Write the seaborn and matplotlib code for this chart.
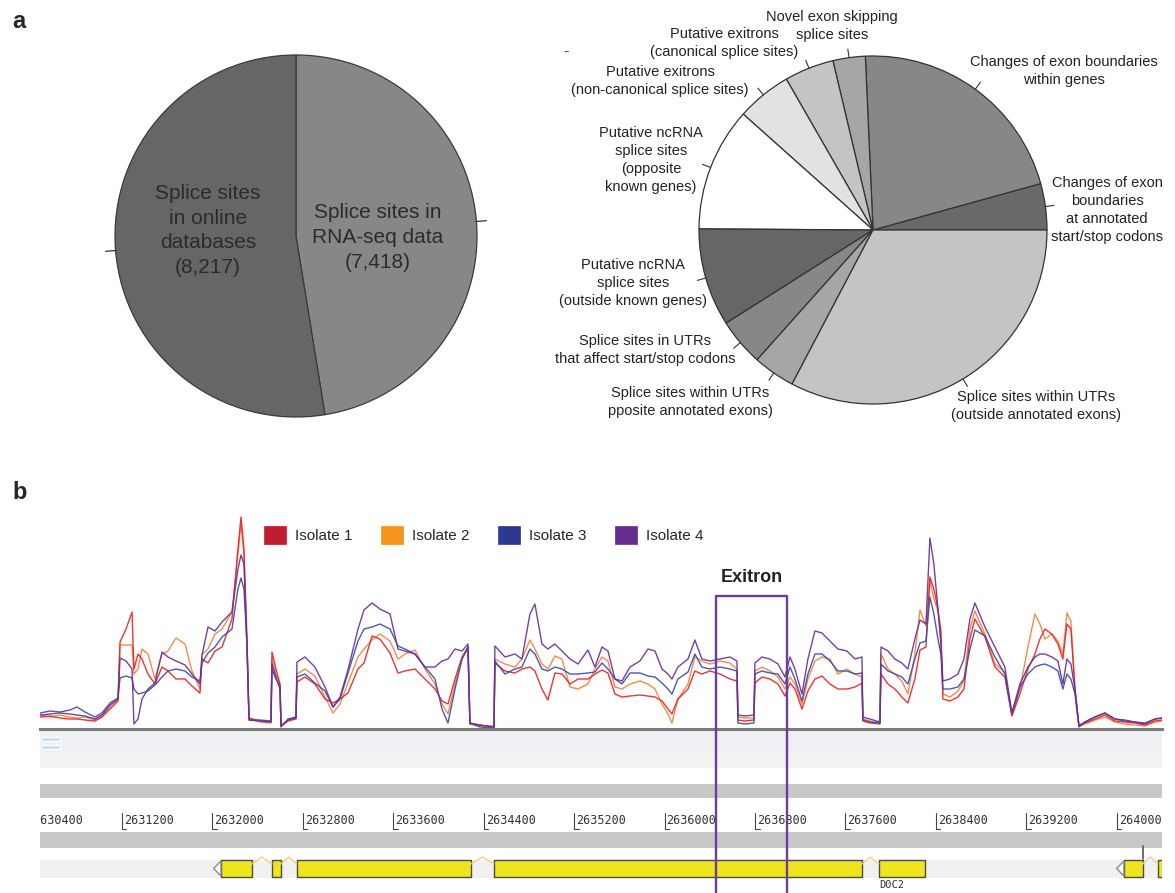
import numpy as np
import pandas as pd
import matplotlib
matplotlib.use("Agg")
import matplotlib.pyplot as plt
from matplotlib.patches import Patch, Polygon
import seaborn as sns

sns.set_theme(style="white")
plt.rcParams['font.family'] = ['Liberation Sans', 'DejaVu Sans']

# ---------------- data: panel a ----------------
left_labels = ["Splice sites in\nRNA-seq data\n(7,418)", "Splice sites\nin online\ndatabases\n(8,217)"]
left_values = [7418, 8217]
left_colors = ["#878787", "#666666"]

right_labels = [
    "Changes of exon\nboundaries\nat annotated\nstart/stop codons",
    "Changes of exon boundaries\nwithin genes",
    "Novel exon skipping\nsplice sites",
    "Putative exitrons\n(canonical splice sites)",
    "Putative exitrons\n(non-canonical splice sites)",
    "Putative ncRNA\nsplice sites\n(opposite\nknown genes)",
    "Putative ncRNA\nsplice sites\n(outside known genes)",
    "Splice sites in UTRs\nthat affect start/stop codons",
    "Splice sites within UTRs\npposite annotated exons)",
    "Splice sites within UTRs\n(outside annotated exons)",
]
right_values = [4.3, 21.4, 3.0, 4.6, 5.1, 11.5, 9.1, 4.4, 3.9, 32.7]
right_colors = ["#696969", "#878787", "#a6a6a6", "#c4c4c4", "#e2e2e2",
                "#ffffff", "#666666", "#878787", "#a6a6a6", "#c4c4c4"]
# label anchor positions (in pie radius units)
right_label_u = [1.345, 1.098, -0.236, -0.856, -1.224, -1.276, -1.379, -1.31, -1.052, 0.937]
right_label_v = [0.115, 0.914, 1.175, 1.075, 0.856, 0.402, -0.305, -0.69, -0.989, -1.011]

# ---------------- data: panel b ----------------
isolates = ["Isolate 1", "Isolate 2", "Isolate 3", "Isolate 4"]
legend_colors = ["#be1e2d", "#f7941d", "#2b3990", "#662d91"]
line_colors = ["#ee2228", "#f5823a", "#3a4ca6", "#6c2f9c"]

pos = [2630475, 2630563, 2630652, 2630740, 2630802, 2630873, 2630961, 2631023, 2631094, 2631165,
       2631183, 2631236, 2631289, 2631306, 2631342, 2631377, 2631430, 2631492, 2631554, 2631607,
       2631678, 2631758, 2631819, 2631890, 2631908, 2631961, 2632023, 2632085, 2632173, 2632226,
       2632253, 2632279, 2632306, 2632324, 2632421, 2632518, 2632527, 2632562, 2632598, 2632607,
       2632669, 2632739, 2632748, 2632819, 2632907, 2632996, 2633067, 2633129, 2633199, 2633288,
       2633341, 2633412, 2633482, 2633571, 2633642, 2633703, 2633792, 2633880, 2633969, 2634031,
       2634084, 2634146, 2634208, 2634261, 2634278, 2634367, 2634491, 2634499, 2634588, 2634676,
       2634738, 2634809, 2634853, 2634915, 2634968, 2635030, 2635092, 2635163, 2635234, 2635322,
       2635384, 2635446, 2635499, 2635561, 2635623, 2635694, 2635782, 2635853, 2635915, 2635977,
       2636030, 2636065, 2636118, 2636207, 2636268, 2636330, 2636401, 2636490, 2636578, 2636640,
       2636649, 2636711, 2636790, 2636799, 2636861, 2636932, 2637003, 2637065, 2637109, 2637153,
       2637215, 2637268, 2637330, 2637392, 2637463, 2637533, 2637613, 2637684, 2637746, 2637754,
       2637816, 2637905, 2637914, 2637976, 2638037, 2638099, 2638152, 2638214, 2638259, 2638312,
       2638347, 2638382, 2638418, 2638444, 2638462, 2638524, 2638595, 2638648, 2638701, 2638745,
       2638834, 2638922, 2639010, 2639072, 2639143, 2639214, 2639276, 2639320, 2639364, 2639426,
       2639479, 2639523, 2639559, 2639594, 2639630, 2639665, 2639718, 2639806, 2639895, 2639983,
       2640072, 2640160, 2640249, 2640337, 2640399]

cov_iso1 = [12, 13, 11, 10, 10, 9, 8, 12, 20, 28,
            87, 100, 117, 60, 75, 70, 55, 45, 62, 58,
            50, 50, 43, 36, 70, 66, 78, 82, 110, 180,
            212, 180, 90, 11, 8, 7, 77, 60, 45, 3,
            8, 10, 47, 52, 45, 30, 26, 30, 36, 60,
            66, 93, 90, 76, 56, 58, 60, 50, 40, 28,
            25, 50, 72, 82, 5, 4, 2, 66, 58, 56,
            60, 62, 58, 40, 29, 56, 55, 45, 50, 50,
            55, 59, 56, 35, 32, 33, 34, 33, 32, 28,
            20, 15, 30, 40, 58, 55, 58, 55, 50, 48,
            9, 8, 9, 46, 52, 50, 45, 33, 46, 40,
            20, 38, 50, 53, 45, 40, 40, 42, 46, 8,
            6, 5, 55, 45, 40, 32, 26, 50, 79, 82,
            152, 140, 120, 95, 30, 28, 32, 40, 90, 110,
            92, 62, 52, 13, 35, 60, 75, 90, 100, 95,
            85, 70, 105, 100, 40, 4, 6, 10, 14, 8,
            7, 6, 4, 8, 9]
cov_iso2 = [14, 12, 14, 12, 11, 12, 9, 13, 22, 30,
            84, 84, 84, 55, 60, 80, 75, 50, 75, 78,
            91, 85, 58, 40, 74, 80, 95, 100, 117, 175,
            205, 175, 80, 10, 7, 6, 70, 55, 45, 3,
            9, 11, 55, 60, 53, 32, 16, 25, 46, 72,
            80, 89, 95, 88, 70, 75, 79, 60, 45, 25,
            15, 45, 70, 80, 5, 3, 3, 70, 65, 62,
            70, 89, 80, 65, 60, 73, 70, 42, 40, 45,
            60, 72, 68, 42, 40, 45, 48, 45, 40, 25,
            15, 6, 30, 45, 72, 68, 65, 68, 66, 60,
            12, 11, 11, 58, 62, 58, 52, 40, 52, 45,
            25, 50, 68, 72, 70, 55, 60, 55, 52, 10,
            8, 6, 75, 60, 55, 48, 35, 75, 119, 103,
            149, 130, 118, 100, 35, 32, 38, 48, 100, 118,
            95, 65, 57, 14, 40, 82, 115, 105, 90, 95,
            88, 75, 116, 108, 40, 3, 5, 9, 12, 7,
            5, 4, 3, 7, 8]
cov_iso3 = [16, 18, 17, 19, 22, 17, 12, 16, 26, 31,
            51, 53, 51, 40, 35, 36, 38, 44, 52, 58,
            60, 58, 52, 48, 66, 76, 82, 92, 100, 140,
            151, 140, 85, 9, 9, 8, 60, 50, 42, 2,
            10, 12, 52, 55, 46, 38, 22, 30, 56, 88,
            100, 102, 105, 100, 83, 80, 75, 62, 50, 20,
            6, 40, 70, 82, 6, 2, 1, 68, 55, 60,
            62, 80, 75, 60, 58, 62, 60, 55, 55, 56,
            57, 66, 60, 50, 45, 56, 56, 53, 52, 46,
            40, 35, 50, 57, 75, 62, 60, 62, 60, 58,
            6, 5, 6, 55, 58, 56, 55, 45, 62, 50,
            28, 55, 75, 75, 68, 58, 58, 55, 56, 9,
            7, 6, 65, 58, 55, 52, 45, 70, 86, 88,
            132, 115, 90, 75, 40, 40, 42, 50, 80, 99,
            93, 72, 55, 15, 42, 55, 62, 64, 65, 62,
            58, 40, 55, 50, 35, 2, 7, 12, 16, 10,
            9, 7, 6, 10, 11]
cov_iso4 = [14, 15, 16, 15, 14, 13, 10, 14, 24, 30,
            71, 68, 60, 5, 10, 30, 40, 46, 77, 72,
            68, 64, 55, 45, 74, 102, 98, 107, 117, 160,
            174, 165, 82, 9, 8, 7, 65, 52, 40, 3,
            9, 11, 67, 72, 62, 42, 22, 32, 59, 100,
            119, 126, 120, 115, 80, 78, 75, 62, 62, 68,
            70, 80, 78, 85, 6, 4, 2, 83, 72, 75,
            70, 115, 125, 85, 80, 85, 78, 70, 65, 79,
            62, 82, 78, 50, 48, 62, 68, 80, 78, 60,
            55, 50, 62, 70, 89, 70, 68, 70, 72, 68,
            14, 13, 14, 66, 72, 70, 65, 52, 72, 60,
            35, 70, 98, 96, 88, 80, 78, 70, 72, 12,
            10, 7, 82, 78, 70, 66, 60, 90, 109, 105,
            191, 165, 120, 85, 48, 50, 55, 70, 110, 126,
            102, 82, 62, 16, 45, 62, 72, 75, 75, 72,
            68, 45, 70, 65, 40, 3, 7, 12, 16, 10,
            8, 7, 5, 10, 11]

region_start, region_end = 2630475, 2640400
tick_positions = list(range(2630400, 2640001, 800))
exon_starts = [2632076, 2632527, 2632748, 2634491, 2637896, 2640063, 2640364]
exon_ends = [2632350, 2632607, 2634287, 2637746, 2638303, 2640231, 2640460]
intron_starts = [2632350, 2632607, 2634287, 2637746, 2640231]
intron_ends = [2632527, 2632748, 2634491, 2637896, 2640364]
strand_arrow_at = [2632076, 2640063]
gene_label = "D0C2"
gene_label_pos = 2637896
exitron_start, exitron_end = 2636454, 2637082

# ---------------- figure ----------------
W, H = 1175, 893
fig = plt.figure(figsize=(W / 100, H / 100), dpi=100)


def px_axes(x0, y0, x1, y1, **kw):
    return fig.add_axes([x0 / W, 1 - y1 / H, (x1 - x0) / W, (y1 - y0) / H], **kw)


def multiline(ax, u, v, label, step, **kw):
    lines = label.split("\n")
    n = len(lines)
    for i, ln in enumerate(lines):
        ax.text(u, v + (n - 1) / 2 * step - i * step, ln, ha="center", va="center",
                clip_on=False, **kw)


TXT = "#2b2b2b"

# ---- left pie ----
ax1 = px_axes(296 - 181, 236 - 181, 296 + 181, 236 + 181)
w1, _ = ax1.pie(left_values, colors=left_colors, startangle=90, counterclock=False,
                radius=1, wedgeprops=dict(edgecolor="#3a3a3a", linewidth=0.9))
ax1.set_xlim(-1, 1)
ax1.set_ylim(-1, 1)
ax1.set_aspect("equal")
ax1.axis("off")
for w in w1:
    th = np.deg2rad((w.theta1 + w.theta2) / 2)
    ax1.plot([np.cos(th), 1.055 * np.cos(th)], [np.sin(th), 1.055 * np.sin(th)],
             color="#333333", lw=0.9, clip_on=False)
multiline(ax1, 0.453, -0.008, left_labels[0], 0.136, fontsize=15, color=TXT)
multiline(ax1, -0.486, 0.030, left_labels[1], 0.136, fontsize=15, color=TXT)

# ---- right pie ----
cx, cy, r = 873, 230, 174
ax2 = px_axes(cx - r, cy - r, cx + r, cy + r)
w2, _ = ax2.pie(right_values, colors=right_colors, startangle=0, counterclock=True,
                radius=1, wedgeprops=dict(edgecolor="#333333", linewidth=0.9))
ax2.set_xlim(-1, 1)
ax2.set_ylim(-1, 1)
ax2.set_aspect("equal")
ax2.axis("off")
for w, lab, u, v in zip(w2, right_labels, right_label_u, right_label_v):
    th = np.deg2rad((w.theta1 + w.theta2) / 2)
    ax2.plot([np.cos(th), 1.05 * np.cos(th)], [np.sin(th), 1.05 * np.sin(th)],
             color="#333333", lw=0.8, clip_on=False)
    multiline(ax2, u, v, lab, 0.104, fontsize=10.5, color="#222222")

fig.text(566 / W, 1 - 52 / H, "-", fontsize=12, color="#555555", ha="center", va="center")
fig.text(12 / W, 1 - 22 / H, "a", fontsize=17, fontweight="bold", ha="left", va="center")
fig.text(12 / W, 1 - 492 / H, "b", fontsize=17, fontweight="bold", ha="left", va="center")

# ---- coverage track ----
df = pd.DataFrame({
    "pos": pos * 4,
    "coverage": cov_iso1 + cov_iso2 + cov_iso3 + cov_iso4,
    "isolate": sum([[iso] * len(pos) for iso in isolates], []),
})
axc = px_axes(40, 505, 1162, 729)
axc.set_zorder(3)
axc.patch.set_visible(False)
draw_order = ["Isolate 2", "Isolate 1", "Isolate 3", "Isolate 4"]
sns.lineplot(data=df, x="pos", y="coverage", hue="isolate", hue_order=draw_order,
             palette=dict(zip(isolates, line_colors)), estimator=None, legend=False,
             linewidth=1.0, alpha=0.92, ax=axc)
axc.set_xlim(region_start, region_end)
axc.set_ylim(0, 224)
for s in ["top", "left", "right"]:
    axc.spines[s].set_visible(False)
axc.spines["bottom"].set_color("#7a7a7a")
axc.spines["bottom"].set_linewidth(2.2)
axc.set_xticks([])
axc.set_yticks([])
axc.set_xlabel("")
axc.set_ylabel("")
axc.plot([exitron_start, exitron_start, exitron_end, exitron_end], [-175, 133, 133, -175],
         color="#6a3d9e", lw=1.7, clip_on=False, zorder=10)
axc.text((exitron_start + exitron_end) / 2, 152, "Exitron", ha="center", va="center",
         fontsize=13, fontweight="bold", color="#222222")

handles = [Patch(facecolor=c, edgecolor=c, linewidth=0.5) for c in legend_colors]
fig.legend(handles, isolates, loc="center left", bbox_to_anchor=(264 / W, 1 - 535 / H),
           ncol=4, frameon=False, fontsize=11, handlelength=1.45, handleheight=1.45,
           handletextpad=0.55, columnspacing=1.9, borderpad=0, borderaxespad=0)

# ---- annotation tracks ----
axt = px_axes(40, 731, 1162, 893)
axt.set_zorder(1)
axt.set_xlim(region_start, region_end)
axt.set_ylim(893, 731)
axt.axis("off")
axt.axhspan(731, 752, color="#eef0f3", lw=0)
axt.axhspan(752, 768, color="#f3f3f3", lw=0)
axt.axhspan(784, 798, color="#c8c8c8", lw=0)
axt.axhspan(832, 848, color="#c8c8c8", lw=0)
axt.axhspan(860, 878, color="#f1f1f1", lw=0)
axt.broken_barh([(region_start + 10, 170)], (737, 4), facecolors="#c9dcf1")
axt.broken_barh([(region_start + 10, 170)], (745, 4), facecolors="#c9dcf1")
for t in tick_positions:
    axt.plot([t, t], [813, 829], color="#444444", lw=0.8)
    axt.plot([t, t + 40], [829, 829], color="#444444", lw=0.8)
    axt.text(t + 18, 821, str(t), fontfamily="DejaVu Sans Mono", fontsize=8.5,
             ha="left", va="center", color="#333333", clip_on=True)
axt.plot([2640231, 2640231], [846, 859], color="#555555", lw=1.2)

axt.broken_barh(list(zip(exon_starts, [e - s for s, e in zip(exon_starts, exon_ends)])),
                (860, 17), facecolors="#eee51c", edgecolors="#4a4a4a", linewidth=1.0)
for e, s in zip(intron_starts, intron_ends):
    axt.plot([e, (e + s) / 2, s], [864, 857, 864], color="#e2d88c", lw=1.0)
for s in strand_arrow_at:
    axt.add_patch(Polygon([(s, 861), (s - 65, 868.5), (s, 876)], closed=True,
                          facecolor="#ffffff", edgecolor="#8a8a8a", lw=1.0))
axt.text(gene_label_pos, 885, gene_label, fontfamily="DejaVu Sans Mono", fontsize=7.5,
         ha="left", va="center", color="#333333")

fig.savefig("out.png", dpi=100, facecolor="white")
